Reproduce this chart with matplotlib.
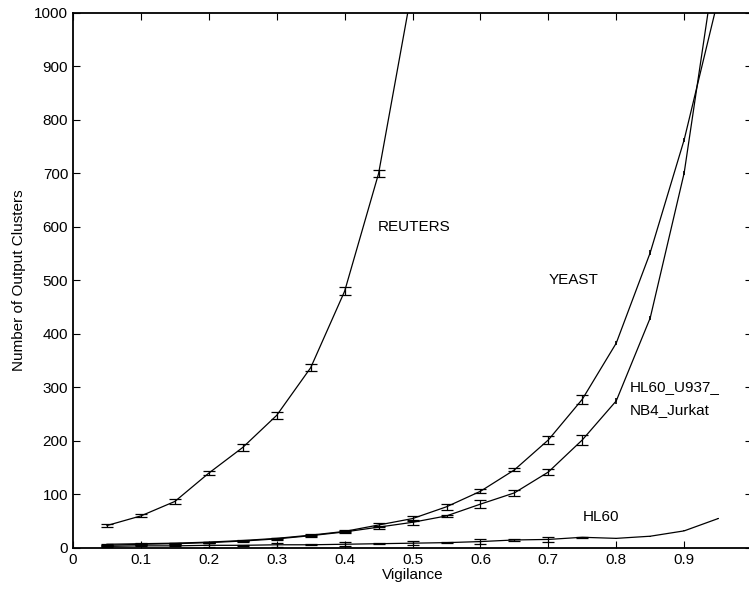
import matplotlib.pyplot as plt

# === Data ===
vigilance = [0.05, 0.10, 0.15, 0.20, 0.25, 0.30, 0.35, 0.40, 0.45, 0.50,
             0.55, 0.60, 0.65, 0.70, 0.75, 0.80, 0.85, 0.90, 0.95]

reuters_x = vigilance[:10]
reuters = [42, 60, 87, 140, 188, 248, 337, 480, 700, 1050]
reuters_err = [3, 3, 4, 4, 6, 6, 7, 7, 6, 0]

yeast = [7, 8, 9, 11, 14, 18, 24, 31, 43, 55,
         77, 106, 146, 202, 278, 383, 552, 763, 1026]
yeast_err = [1, 1, 1, 1, 1, 1, 2, 2, 3, 4,
             6, 4, 3, 7, 8, 4, 5, 4, 0]

hl60_mix = [5, 7, 8, 10, 13, 17, 23, 30, 39, 48,
            60, 82, 103, 142, 202, 275, 430, 701, 1128]
hl60_mix_err = [1, 1, 1, 1, 1, 2, 2, 2, 3, 5,
                2, 7, 6, 6, 9, 5, 4, 4, 0]

hl60 = [3, 4, 4, 5, 5, 6, 6, 7, 8, 9,
        10, 12, 15, 16, 20, 18, 22, 32, 55]
hl60_err = [1, 1, 1, 4, 1, 4, 1, 4, 1, 4,
            1, 5, 1, 4, 1, 1, 1, 1, 1]

n_capped = 15  # caps are only drawn up to vigilance 0.75

x_ticks = [0, 0.1, 0.2, 0.3, 0.4, 0.5, 0.6, 0.7, 0.8, 0.9]
y_ticks = list(range(0, 1001, 100))

# === Plot ===
plt.rcParams['font.family'] = ['Liberation Sans', 'DejaVu Sans']
fs = 11
fig = plt.figure(figsize=(7.49, 5.90), dpi=100)
ax = fig.add_axes([0.0975, 0.0712, 0.9066, 0.9068])

for xs, ys, es in [(reuters_x, reuters, reuters_err),
                   (vigilance, yeast, yeast_err),
                   (vigilance, hl60_mix, hl60_mix_err),
                   (vigilance, hl60, hl60_err)]:
    ax.plot(xs, ys, color='black', lw=0.9)
    ax.errorbar(xs[:n_capped], ys[:n_capped], yerr=es[:n_capped], fmt='none',
                ecolor='black', elinewidth=0.9, capsize=4.5, capthick=0.9)
    if len(xs) > n_capped:
        ax.errorbar(xs[n_capped:], ys[n_capped:], yerr=es[n_capped:],
                    fmt='none', ecolor='black', elinewidth=1.2, capsize=0)

ax.text(0.449, 600, "REUTERS", fontsize=fs, va='center')
ax.text(0.700, 501, "YEAST", fontsize=fs, va='center')
ax.text(0.820, 301, "HL60_U937_", fontsize=fs, va='center')
ax.text(0.820, 258, "NB4_Jurkat", fontsize=fs, va='center')
ax.text(0.751, 58, "HL60", fontsize=fs, va='center')

ax.set_xlim(0, 1)
ax.set_ylim(0, 1000)
ax.set_xticks(x_ticks)
ax.set_xticklabels([f"{t:g}" for t in x_ticks])
ax.set_yticks(y_ticks)
ax.tick_params(direction='in', top=True, right=True, labelsize=fs,
               length=5, width=0.8)
for s in ax.spines.values():
    s.set_linewidth(1.3)
ax.set_xlabel("Vigilance", fontsize=fs, labelpad=1)
ax.set_ylabel("Number of Output Clusters", fontsize=fs, labelpad=6)

fig.savefig("out.png", dpi=100)
